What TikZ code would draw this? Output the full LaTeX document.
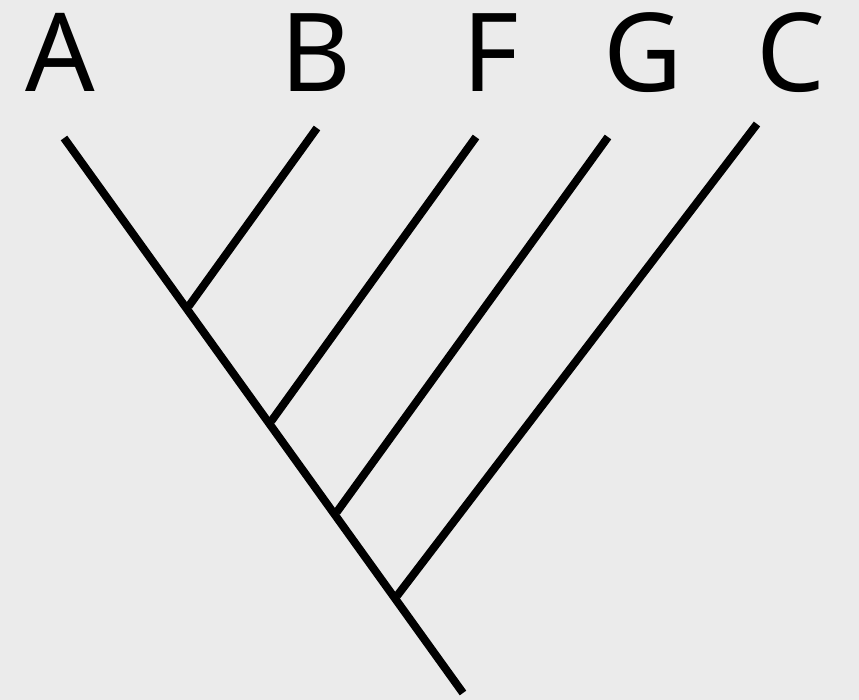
\documentclass[tikz,border=0pt]{standalone}
\usepackage{fontspec}
\setmainfont{Noto Sans}
\usetikzlibrary{calc}
\definecolor{bg}{RGB}{235,235,235}
\begin{document}
\begin{tikzpicture}[x=0.01cm,y=-0.01cm,
  branch/.style={line width=0.08cm,line cap=butt},
  taxon/.style={anchor=base,inner sep=0pt,font=\fontsize{31}{36}\selectfont}]
\fill[bg] (0,0) rectangle (859,700);
\useasboundingbox (0,0) rectangle (859,700);
% labels
\node[taxon] (A) at (60,92) {A};
\node[taxon] (B) at (316,92) {B};
\node[taxon] (F) at (491,92) {F};
\node[taxon] (G) at (643,92) {G};
\node[taxon] (C) at (791,92) {C};
% main stem
\coordinate (top) at (64,138);
\coordinate (root) at (463,693);
\draw[branch] (top) -- (root);
\coordinate (nB) at ($(top)!0.305!(root)+(3,-1)$);
\coordinate (nF) at ($(top)!0.512!(root)+(3,-1)$);
\coordinate (nG) at ($(top)!0.676!(root)+(3,-1)$);
\coordinate (nC) at ($(top)!0.827!(root)+(3,-1)$);
\coordinate (tB) at (317,128);
\coordinate (tF) at (476,137);
\coordinate (tG) at (608,137);
\coordinate (tC) at (757,124);
\draw[branch] (tB) -- (nB);
\draw[branch] (tF) -- (nF);
\draw[branch] (tG) -- (nG);
\draw[branch] (tC) -- (nC);
\end{tikzpicture}
\end{document}
